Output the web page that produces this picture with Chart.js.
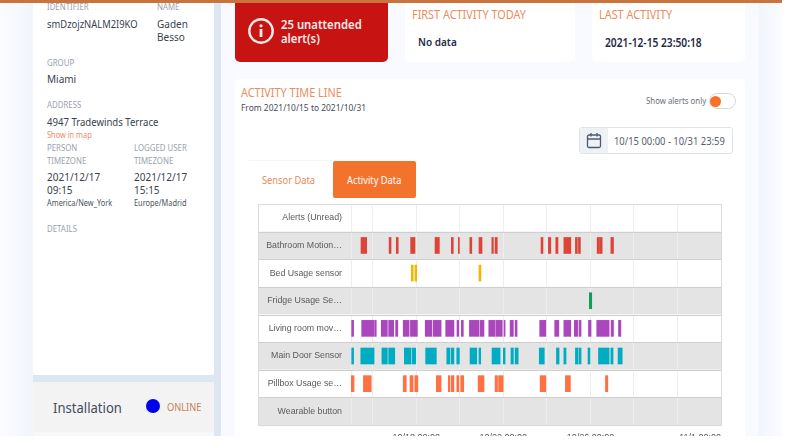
<!DOCTYPE html>
<html>
<head>
<meta charset="utf-8">
<script src="https://cdn.jsdelivr.net/npm/chart.js@4"></script>
<style>
html, body { margin: 0; padding: 0; background: #fff; overflow: hidden; }
body { width: 803px; height: 443px; position: relative; font-family: "Noto Sans", sans-serif; color: #2f3a4a; }
.box { position: absolute; }
.t { position: absolute; white-space: nowrap; transform-origin: left center; transform: translateY(-50%) scaleX(0.87); line-height: 1.2; }
.lbl { font-size: 9px; color: #9ba2ab; }
.val { font-size: 11.5px; color: #39424e; }
.sub { font-size: 8.5px; color: #4c5560; }
.head { font-size: 12.5px; color: #e98d60; }
.strong { font-size: 11.5px; font-weight: 600; color: #1f2b44; }
#chartWrap { position: absolute; left: 240px; top: 195px; width: 520px; height: 241px; overflow: hidden; }
#chartWrap canvas { position: absolute; left: 0; top: 0; }
</style>
</head>
<body>
<!-- fond de page -->
<div class="box" style="left:0;top:0;width:782px;height:436px;background:linear-gradient(90deg,#fbfcff 0,#f1f5fc 33px,#f8faff 240px,#f8faff 758px,#f1f5fd 759px,#fbfcff 782px)"></div>
<div class="box" style="left:214px;top:0;width:7px;height:436px;background:#dde6f3"></div>
<div class="box" style="left:33px;top:0;width:181px;height:375px;background:#fff;border-radius:0 0 4px 4px"></div>
<div class="box" style="left:33px;top:375px;width:181px;height:7px;background:#dde6f3"></div>
<div class="box" style="left:33px;top:382px;width:181px;height:50px;background:#f3f3f3"></div>
<div class="box" style="left:33px;top:432px;width:181px;height:4px;background:#f7f8fa"></div>
<div class="box" style="left:0;top:0;width:782px;height:3px;background:#c9743c"></div>

<!-- colonne de gauche -->
<span class="t lbl" style="left:46.5px;top:7px">IDENTIFIER</span>
<span class="t lbl" style="left:156.5px;top:7px">NAME</span>
<span class="t val" style="left:46.5px;top:24px;font-size:10.8px">smDzojzNALM2I9KO</span>
<span class="t val" style="left:156.5px;top:24px">Gaden</span>
<span class="t val" style="left:156.5px;top:36.5px">Besso</span>
<span class="t lbl" style="left:46.5px;top:62.5px">GROUP</span>
<span class="t val" style="left:46.5px;top:79px">Miami</span>
<span class="t lbl" style="left:46.5px;top:105px">ADDRESS</span>
<span class="t val" style="left:46.5px;top:122px;font-size:11px">4947 Tradewinds Terrace</span>
<span class="t" style="left:46.5px;top:135px;font-size:8.5px;color:#ee8a68">Show in map</span>
<span class="t lbl" style="left:46.5px;top:148px">PERSON</span>
<span class="t lbl" style="left:134px;top:148px">LOGGED USER</span>
<span class="t lbl" style="left:46.5px;top:160.5px">TIMEZONE</span>
<span class="t lbl" style="left:134px;top:160.5px">TIMEZONE</span>
<span class="t val" style="left:46.5px;top:177px">2021/12/17</span>
<span class="t val" style="left:134px;top:177px">2021/12/17</span>
<span class="t val" style="left:46.5px;top:190px">09:15</span>
<span class="t val" style="left:134px;top:190px">15:15</span>
<span class="t sub" style="left:46.5px;top:203px">America/New_York</span>
<span class="t sub" style="left:134px;top:203px">Europe/Madrid</span>
<span class="t lbl" style="left:46.5px;top:229px">DETAILS</span>
<span class="t" style="left:53px;top:407px;font-size:15px;color:#434c5c">Installation</span>
<div class="box" style="left:146px;top:399px;width:14px;height:14px;border-radius:50%;background:#0000f0"></div>
<span class="t" style="left:167px;top:406.5px;font-size:10.6px;color:#c47f58">ONLINE</span>

<!-- cartes du haut -->
<div class="box" style="left:235px;top:3px;width:153px;height:59px;background:#c81313;border-radius:0 0 5px 5px"></div>
<svg class="box" style="left:247px;top:17px" width="28" height="28" viewBox="0 0 28 28">
  <circle cx="14" cy="14" r="11.7" fill="none" stroke="#f8eaea" stroke-width="2.4"/>
  <rect x="12.6" y="12" width="2.8" height="8" fill="#f8eaea"/>
  <circle cx="14" cy="8.8" r="1.6" fill="#f8eaea"/>
</svg>
<span class="t" style="left:281px;top:24.5px;font-size:13px;font-weight:600;color:#fbecec">25 unattended</span>
<span class="t" style="left:281px;top:38.5px;font-size:13px;font-weight:600;color:#fbecec">alert(s)</span>
<div class="box" style="left:405px;top:0;width:170px;height:62px;background:#fff;border-radius:0 0 5px 5px"></div>
<div class="box" style="left:592px;top:0;width:153px;height:62px;background:#fff;border-radius:0 0 5px 5px"></div>
<div class="box" style="left:405px;top:0;width:340px;height:3px;background:#c9743c"></div>
<span class="t head" style="left:412px;top:14px">FIRST ACTIVITY TODAY</span>
<span class="t strong" style="left:418px;top:42px">No data</span>
<span class="t head" style="left:598.5px;top:14px">LAST ACTIVITY</span>
<span class="t strong" style="left:605px;top:42px;font-size:11.75px">2021-12-15 23:50:18</span>

<!-- carte principale -->
<div class="box" style="left:235px;top:79px;width:510px;height:357px;background:#fff;border-radius:5px 5px 0 0"></div>
<span class="t head" style="left:241px;top:92px">ACTIVITY TIME LINE</span>
<span class="t" style="left:241px;top:108px;font-size:9.7px;color:#444c58">From 2021/10/15 to 2021/10/31</span>
<span class="t" style="left:645.7px;top:101px;font-size:9px;color:#6a717b">Show alerts only</span>
<div class="box" style="left:709px;top:93px;width:25px;height:14px;border:1px solid #d5d8de;border-radius:8px;background:#fff"></div>
<div class="box" style="left:710px;top:95.5px;width:11px;height:11px;border-radius:50%;background:#f3722c"></div>
<div class="box" style="left:579px;top:127px;width:151.5px;height:25px;border:1px solid #dfe3ea;border-radius:3px;background:#fff"></div>
<div class="box" style="left:580px;top:128px;width:28px;height:25px;background:#eef1f6"></div>
<svg class="box" style="left:586px;top:132px" width="16" height="17" viewBox="0 0 16 17">
  <rect x="1.5" y="3" width="13" height="12.5" rx="1.5" fill="none" stroke="#4d5b70" stroke-width="1.3"/>
  <path d="M1.5 7h13M5 1v3.5M11 1v3.5" fill="none" stroke="#4d5b70" stroke-width="1.3"/>
</svg>
<span class="t" style="left:614px;top:140.5px;font-size:10.8px;color:#565e6a">10/15 00:00 - 10/31 23:59</span>
<div class="box" style="left:249px;top:160px;width:83px;height:38px;background:#fff;border-top:1px solid #f5f5f5"></div>
<span class="t" style="left:262px;top:179.5px;font-size:10.7px;color:#e98a5c">Sensor Data</span>
<div class="box" style="left:333px;top:161px;width:82.5px;height:37px;background:#f3722c;border-radius:2px"></div>
<span class="t" style="left:347px;top:179.5px;font-size:10.7px;color:#fff">Activity Data</span>

<div id="chartWrap"><canvas id="timeline" width="520" height="250" style="width:520px;height:250px"></canvas></div>

<script>
// jours d'octobre (15.5 = 15 oct. 12:00), novembre 1 = 32
const sensorNames = ['Alerts (Unread)', 'Bathroom Motion…', 'Bed Usage sensor', 'Fridge Usage Se…', 'Living room mov…', 'Main Door Sensor', 'Pillbox Usage se…', 'Wearable button'];
const tickDays = [18, 22, 26, 32];
const tickLabels = ['10/18 00:00', '10/22 00:00', '10/26 00:00', '11/1 00:00'];

const bathroomEvents = [[15.46,15.72],[16.75,16.84],[17.08,17.17],[17.74,17.94],[18.86,19.06],[19.61,19.70],[19.93,19.98],[20.46,20.55],[20.88,21.02],[21.47,21.54],[21.62,21.72],[23.73,23.82],[24.07,24.18],[24.41,24.51],[24.78,25.10],[25.31,25.40],[25.45,25.54],[26.31,26.42],[26.45,26.54],[26.94,27.06]];
const bedEvents = [[17.77,17.86],[17.94,18.02],[20.88,20.97]];
const fridgeEvents = [[25.95,26.06]];
const livingEvents = [[15.03,15.12],[15.49,16.06],[16.09,16.16],[16.39,16.67],[16.73,16.96],[17.05,17.15],[17.40,17.67],[17.73,18.05],[18.41,18.71],[18.77,19.14],[19.35,19.73],[19.87,19.95],[20.07,20.16],[20.44,20.88],[20.93,21.11],[21.33,21.62],[21.66,21.95],[22.03,22.08],[22.31,22.46],[22.54,22.63],[23.67,23.95],[24.36,24.55],[24.78,25.10],[25.26,25.42],[25.48,25.57],[25.91,26.03],[26.29,26.86],[26.95,27.06],[27.29,27.40]];
const doorEvents = [[15.03,15.12],[15.45,16.06],[16.42,16.67],[16.73,17.01],[17.45,17.76],[17.82,17.88],[17.91,17.97],[18.43,18.92],[19.40,19.55],[19.61,19.73],[19.86,19.98],[20.47,20.78],[20.88,20.96],[21.48,21.85],[22.00,22.08],[22.35,22.46],[22.54,22.68],[23.65,23.88],[24.44,24.56],[24.78,24.88],[25.31,25.42],[25.47,25.57],[25.89,25.98],[26.37,26.86],[26.94,27.04],[27.27,27.46]];
const pillboxEvents = [[15.00,15.14],[15.57,15.93],[17.40,17.54],[17.71,17.85],[17.93,18.07],[18.92,19.14],[19.47,19.55],[19.61,19.73],[19.86,19.95],[20.04,20.18],[20.84,21.11],[21.62,21.73],[21.78,21.99],[23.69,23.95],[24.85,25.08],[26.69,26.80]];

const eventRows = [
  { row: 1, events: bathroomEvents, color: '#dd4437' },
  { row: 2, events: bedEvents, color: '#f4b400' },
  { row: 3, events: fridgeEvents, color: '#0f9d58' },
  { row: 4, events: livingEvents, color: '#ab47bc' },
  { row: 5, events: doorEvents, color: '#00acc1' },
  { row: 6, events: pillboxEvents, color: '#ff7043' }
];

const datasets = eventRows.map(r => ({
  label: sensorNames[r.row],
  data: r.events.map(e => ({ x: e, y: sensorNames[r.row] })),
  backgroundColor: r.color,
  borderWidth: 0,
  barThickness: 16,
  grouped: false
}));

// bandes alternées et colonne des libellés
const rowBands = {
  id: 'rowBands',
  beforeDraw(chart) {
    const ctx = chart.ctx, y = chart.scales.y, area = chart.chartArea;
    const h = y.getPixelForValue(1) - y.getPixelForValue(0);
    const left = area.left - 93;
    ctx.save();
    sensorNames.forEach((name, i) => {
      const top = y.getPixelForValue(i) - h / 2;
      ctx.fillStyle = i % 2 ? '#e4e4e4' : '#ffffff';
      ctx.fillRect(left, top, area.right - left, h);
    });
    ctx.restore();
  },
  afterDraw(chart) {
    const ctx = chart.ctx, y = chart.scales.y, area = chart.chartArea;
    const h = y.getPixelForValue(1) - y.getPixelForValue(0);
    const left = area.left - 93;
    ctx.save();
    ctx.strokeStyle = '#cfcfcf';
    ctx.lineWidth = 1;
    for (let i = 0; i <= sensorNames.length; i++) {
      const py = Math.round(y.getPixelForValue(i) - h / 2) + 0.5;
      ctx.beginPath();
      ctx.moveTo(left, py);
      ctx.lineTo(area.right, py);
      ctx.stroke();
    }
    ctx.strokeStyle = '#dcdcdc';
    ctx.strokeRect(left + 0.5, area.top + 0.5, area.right - left, area.bottom - area.top);
    ctx.restore();
  }
};

new Chart(document.getElementById('timeline'), {
  type: 'bar',
  data: { labels: sensorNames, datasets: datasets },
  plugins: [rowBands],
  options: {
    indexAxis: 'y',
    responsive: false,
    animation: false,
    layout: { padding: { left: 0, right: 39, top: 9, bottom: 5.6 } },
    plugins: { legend: { display: false }, tooltip: { enabled: false } },
    scales: {
      x: {
        type: 'linear',
        min: 15,
        max: 32,
        afterFit(scale) { scale.height = 14.3; },
        border: { display: false },
        grid: { color: '#eeeeee', drawTicks: false },
        ticks: {
          stepSize: 2,
          autoSkip: false,
          maxRotation: 0,
          align: 'inner',
          padding: 7,
          color: '#555',
          font: { family: 'Liberation Sans', size: 9 },
          callback: v => {
            const i = tickDays.indexOf(v);
            return i < 0 ? '' : tickLabels[i];
          }
        }
      },
      y: {
        type: 'category',
        offset: true,
        afterFit(scale) { scale.width = 111; },
        border: { display: false },
        grid: { display: false },
        ticks: {
          padding: 1,
          color: '#5a5a5a',
          font: { family: 'Liberation Sans', size: 8.8 }
        }
      }
    }
  }
});
</script>
</body>
</html>
